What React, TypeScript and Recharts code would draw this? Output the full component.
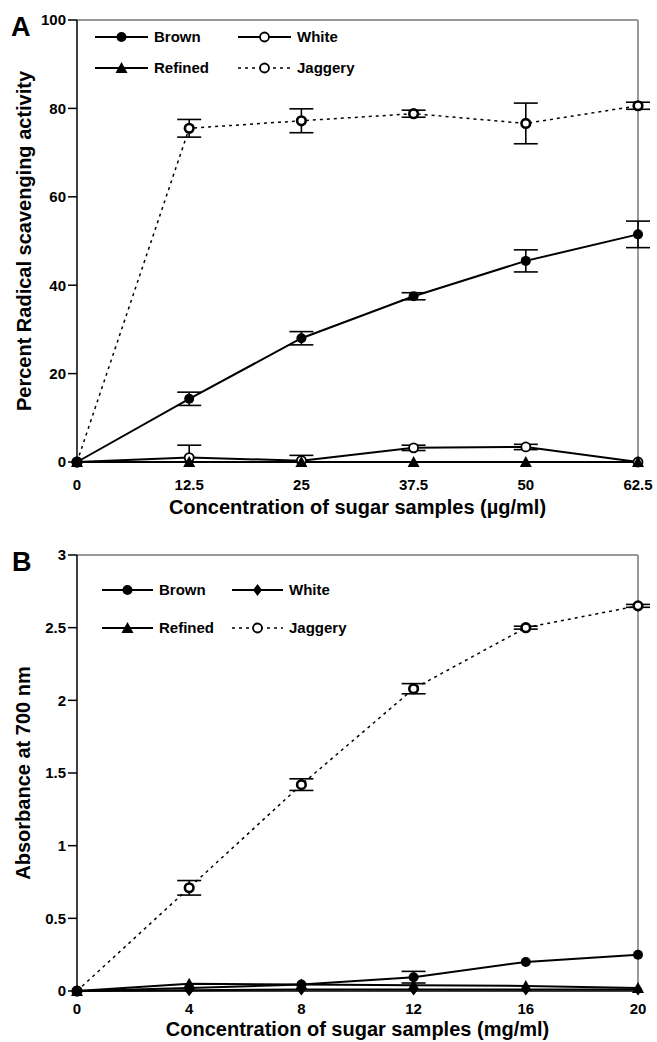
import React from "react";
import {
  LineChart,
  Line,
  XAxis,
  YAxis,
  ErrorBar,
  Legend,
  ReferenceLine,
  Label,
} from "recharts";

// Panel A: DPPH radical scavenging (%)
const concA = [0, 12.5, 25, 37.5, 50, 62.5];
const brownA = [0, 14.3, 28.0, 37.5, 45.5, 51.5];
const brownErrA = [null, 1.5, 1.5, 0.8, 2.5, 3.0];
const whiteA = [0, 1.0, 0.3, 3.2, 3.4, 0];
const whiteErrA = [null, [1.0, 2.8], [0.3, 1.2], 0.6, 0.6, null];
const refinedA = [0, 0, 0, 0, 0, 0];
const jaggeryA = [0, 75.5, 77.2, 78.8, 76.6, 80.6];
const jaggeryErrA = [null, 2.0, 2.7, 0.8, 4.6, 0.8];
const yTicksA = [0, 20, 40, 60, 80, 100];

// Panel B: reducing power (absorbance)
const concB = [0, 4, 8, 12, 16, 20];
const brownB = [0, 0.02, 0.045, 0.095, 0.2, 0.25];
const brownErrB = [null, null, null, 0.04, null, null];
const whiteB = [0, 0.005, 0.01, 0.01, 0.01, 0.01];
const refinedB = [0, 0.05, 0.045, 0.04, 0.035, 0.02];
const jaggeryB = [0, 0.71, 1.42, 2.08, 2.5, 2.65];
const jaggeryErrB = [null, 0.05, 0.04, 0.035, 0.01, 0.01];
const yTicksB = [0, 0.5, 1, 1.5, 2, 2.5, 3];

const FONT = "'Liberation Sans', Arial, sans-serif";

type Kind = "circle" | "open" | "triangle" | "diamond" | "jag";

function Marker({ kind, cx, cy }: { kind: Kind; cx: number; cy: number }) {
  if (kind === "circle") return <circle cx={cx} cy={cy} r={5} fill="#000" />;
  if (kind === "open")
    return <circle cx={cx} cy={cy} r={4.5} fill="#fff" stroke="#000" strokeWidth={1.8} />;
  if (kind === "jag")
    return <circle cx={cx} cy={cy} r={4.3} fill="#fff" stroke="#000" strokeWidth={2.6} />;
  if (kind === "triangle")
    return (
      <polygon
        points={`${cx},${cy - 6} ${cx - 6},${cy + 5} ${cx + 6},${cy + 5}`}
        fill="#000"
      />
    );
  return (
    <polygon
      points={`${cx},${cy - 6} ${cx + 4.5},${cy} ${cx},${cy + 6} ${cx - 4.5},${cy}`}
      fill="#000"
    />
  );
}

const dot = (kind: Kind) => (p: any) => {
  const { cx, cy, index } = p;
  if (cx == null || cy == null) return <g key={`${kind}-${index}`} />;
  return <Marker key={`${kind}-${index}`} kind={kind} cx={cx} cy={cy} />;
};

type Item = { name: string; kind: Kind; dashed?: boolean };

function LegendBox({ items, rows, cols, lineW }: { items: Item[]; rows: number[]; cols: number[]; lineW: number }) {
  return (
    <svg width={300} height={rows[1] + 14} style={{ display: "block" }}>
      {items.map((it, i) => {
        const x = cols[i % 2];
        const y = rows[Math.floor(i / 2)];
        return (
          <g key={it.name}>
            <line
              x1={x}
              x2={x + lineW}
              y1={y}
              y2={y}
              stroke="#000"
              strokeWidth={it.dashed ? 1.5 : 2}
              strokeDasharray={it.dashed ? "3 4" : undefined}
            />
            <Marker kind={it.kind} cx={x + lineW / 2} cy={y} />
            <text
              x={x + lineW + 6}
              y={y}
              dy="0.36em"
              fontFamily={FONT}
              fontWeight="bold"
              fontSize={15}
              fill="#000"
            >
              {it.name}
            </text>
          </g>
        );
      })}
    </svg>
  );
}

const tickStyle = { fill: "#000", fontSize: 15, fontWeight: "bold" as const, fontFamily: FONT };
const titleStyle = { fill: "#000", fontSize: 20, fontWeight: "bold" as const, fontFamily: FONT };
const axisLine = { stroke: "#000", strokeWidth: 1.5 };

export default function App() {
  const dataA = concA.map((x, i) => ({
    x,
    brown: brownA[i],
    brownErr: brownErrA[i],
    white: whiteA[i],
    whiteErr: whiteErrA[i],
    refined: refinedA[i],
    jaggery: jaggeryA[i],
    jaggeryErr: jaggeryErrA[i],
  }));
  const dataB = concB.map((x, i) => ({
    x,
    brown: brownB[i],
    brownErr: brownErrB[i],
    white: whiteB[i],
    refined: refinedB[i],
    jaggery: jaggeryB[i],
    jaggeryErr: jaggeryErrB[i],
  }));

  const itemsA: Item[] = [
    { name: "Brown", kind: "circle" },
    { name: "White", kind: "open" },
    { name: "Refined", kind: "triangle" },
    { name: "Jaggery", kind: "open", dashed: true },
  ];
  const itemsB: Item[] = [
    { name: "Brown", kind: "circle" },
    { name: "White", kind: "diamond" },
    { name: "Refined", kind: "triangle" },
    { name: "Jaggery", kind: "open", dashed: true },
  ];

  const err = (key: string) => (
    <ErrorBar dataKey={key} direction="y" width={12} stroke="#000" strokeWidth={1.6} />
  );

  return (
    <div
      style={{
        position: "absolute",
        left: 0,
        top: 0,
        width: 657,
        height: 1042,
        background: "#fff",
        fontFamily: FONT,
      }}
    >
      <div style={{ position: "absolute", left: 11, top: 12, fontSize: 27, fontWeight: "bold" }}>A</div>
      <div style={{ position: "absolute", left: 12, top: 547, fontSize: 27, fontWeight: "bold" }}>B</div>

      <div style={{ position: "absolute", left: 0, top: 0 }}>
        <LineChart width={657} height={520} data={dataA} margin={{ top: 20, right: 19, left: 7, bottom: 0 }}>
          <XAxis
            dataKey="x"
            type="number"
            domain={[0, 62.5]}
            ticks={concA}
            tickLine={false}
            tickMargin={11}
            height={58}
            axisLine={axisLine}
            tick={tickStyle}
          >
            <Label value="Concentration of sugar samples (µg/ml)" position="insideBottom" offset={6} style={titleStyle} />
          </XAxis>
          <YAxis
            type="number"
            domain={[0, 100]}
            ticks={yTicksA}
            width={70}
            tickSize={9}
            tickMargin={2}
            axisLine={axisLine}
            tickLine={axisLine}
            tick={tickStyle}
          >
            <Label
              value="Percent Radical scavenging activity"
              angle={-90}
              position="insideLeft"
              offset={17}
              style={{ ...titleStyle, textAnchor: "middle" }}
            />
          </YAxis>
          <ReferenceLine y={100} stroke="#999" strokeWidth={2} />
          <ReferenceLine x={62.5} stroke="#999" strokeWidth={2} />
          <Legend
            layout="horizontal"
            verticalAlign="middle"
            align="center"
            width={300}
            height={60}
            wrapperStyle={{ left: 90, top: 25, width: 300, height: 60 }}
            content={() => <LegendBox items={itemsA} rows={[12, 43]} cols={[5, 148]} lineW={53} />}
          />
          <Line dataKey="jaggery" stroke="#000" strokeWidth={1.5} strokeDasharray="3 4" dot={dot("jag")} isAnimationActive={false}>
            {err("jaggeryErr")}
          </Line>
          <Line dataKey="white" stroke="#000" strokeWidth={2} dot={dot("open")} isAnimationActive={false}>
            {err("whiteErr")}
          </Line>
          <Line dataKey="refined" stroke="#000" strokeWidth={2} dot={dot("triangle")} isAnimationActive={false} />
          <Line dataKey="brown" stroke="#000" strokeWidth={2} dot={dot("circle")} isAnimationActive={false}>
            {err("brownErr")}
          </Line>
        </LineChart>
      </div>

      <div style={{ position: "absolute", left: 0, top: 530 }}>
        <LineChart width={657} height={512} data={dataB} margin={{ top: 25, right: 19, left: 7, bottom: 0 }}>
          <XAxis
            dataKey="x"
            type="number"
            domain={[0, 20]}
            ticks={concB}
            tickLine={false}
            tickMargin={6}
            height={51}
            axisLine={axisLine}
            tick={tickStyle}
          >
            <Label value="Concentration of sugar samples (mg/ml)" position="insideBottom" offset={6} style={titleStyle} />
          </XAxis>
          <YAxis
            type="number"
            domain={[0, 3]}
            ticks={yTicksB}
            width={70}
            tickSize={9}
            tickMargin={2}
            axisLine={axisLine}
            tickLine={axisLine}
            tick={tickStyle}
          >
            <Label
              value="Absorbance at 700 nm"
              angle={-90}
              position="insideLeft"
              offset={16}
              style={{ ...titleStyle, textAnchor: "middle" }}
            />
          </YAxis>
          <ReferenceLine y={3} stroke="#999" strokeWidth={2} />
          <ReferenceLine x={20} stroke="#999" strokeWidth={2} />
          <Legend
            layout="horizontal"
            verticalAlign="middle"
            align="center"
            width={300}
            height={70}
            wrapperStyle={{ left: 97, top: 45, width: 300, height: 70 }}
            content={() => <LegendBox items={itemsB} rows={[15, 53]} cols={[5, 135]} lineW={51} />}
          />
          <Line dataKey="jaggery" stroke="#000" strokeWidth={1.5} strokeDasharray="3 4" dot={dot("jag")} isAnimationActive={false}>
            {err("jaggeryErr")}
          </Line>
          <Line dataKey="white" stroke="#000" strokeWidth={2} dot={dot("diamond")} isAnimationActive={false} />
          <Line dataKey="refined" stroke="#000" strokeWidth={2} dot={dot("triangle")} isAnimationActive={false} />
          <Line dataKey="brown" stroke="#000" strokeWidth={2} dot={dot("circle")} isAnimationActive={false}>
            {err("brownErr")}
          </Line>
        </LineChart>
      </div>
    </div>
  );
}
